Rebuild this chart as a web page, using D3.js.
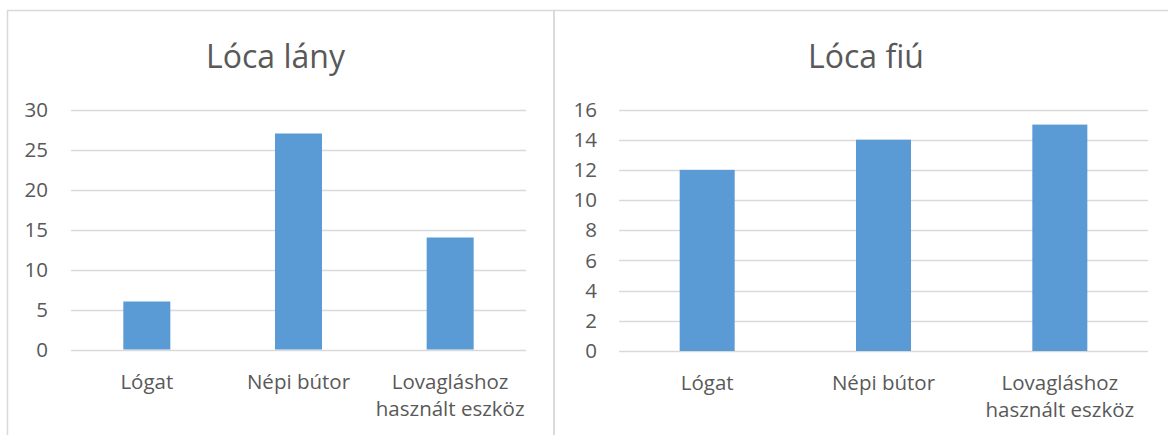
<!DOCTYPE html>
<html><head><meta charset="utf-8">
<script src="https://cdn.jsdelivr.net/npm/d3@7"></script>
<style>body{margin:0;background:#fff}svg{display:block}text{font-family:"Open Sans","Noto Sans",sans-serif;fill:#595959}</style>
</head><body>
<svg id="c" width="1168" height="435"></svg>
<script>
const categories = ["Lógat", "Népi bútor", "Lovagláshoz használt eszköz"];
const lanyValues = [6, 27, 14];
const fiuValues = [12, 14, 15];
const lanyTicks = [0, 5, 10, 15, 20, 25, 30];
const fiuTicks = [0, 2, 4, 6, 8, 10, 12, 14, 16];
const titles = ["Lóca lány", "Lóca fiú"];

const svg = d3.select("#c");
// panel borders
svg.append("rect").attr("x", 7.5).attr("y", 10.5).attr("width", 546.5).attr("height", 440)
  .attr("fill", "none").attr("stroke", "#d9d9d9").attr("stroke-width", 1.5);
svg.append("rect").attr("x", 554).attr("y", 10.5).attr("width", 640).attr("height", 440)
  .attr("fill", "none").attr("stroke", "#d9d9d9").attr("stroke-width", 1.5);

function panel(cfg) {
  const g = svg.append("g");
  const x = d3.scaleBand().domain(categories).range([cfg.x0, cfg.x1]).paddingInner(0).paddingOuter(0);
  const y = d3.scaleLinear().domain([0, d3.max(cfg.ticks)]).range([cfg.yb, cfg.yt]);
  // gridlines
  g.selectAll("line.grid").data(cfg.ticks).join("line")
    .attr("x1", cfg.x0).attr("x2", cfg.x1)
    .attr("y1", d => Math.round(y(d)) + 0.5).attr("y2", d => Math.round(y(d)) + 0.5)
    .attr("stroke", "#d9d9d9").attr("stroke-width", 1.3);
  // y labels
  const ya = d3.axisLeft(y).tickValues(cfg.ticks).tickSize(0).tickPadding(0);
  const yg = g.append("g").attr("transform", `translate(${cfg.labelX},0)`).call(ya);
  yg.select(".domain").remove();
  yg.attr("font-family", null);
  yg.selectAll("text").attr("fill", "#595959").style("font-size", "20.5px");
  // bars
  const bw = x.bandwidth() * cfg.barRatio;
  g.selectAll("rect.bar").data(cfg.values).join("rect")
    .attr("x", (d, i) => x(categories[i]) + (x.bandwidth() - bw) / 2)
    .attr("width", bw)
    .attr("y", d => y(d)).attr("height", d => y(0) - y(d))
    .attr("fill", "#5b9bd5");
  // x labels
  categories.forEach(c => {
    const lines = c === "Lovagláshoz használt eszköz" ? ["Lovagláshoz", "használt eszköz"] : [c];
    const t = g.append("text").attr("text-anchor", "middle").style("font-size", "20.5px");
    lines.forEach((l, i) => t.append("tspan").attr("x", x(c) + x.bandwidth() / 2)
      .attr("y", cfg.yb + 39 + i * 27).text(l));
  });
  // title
  g.append("text").attr("x", cfg.titleX).attr("y", 68).attr("text-anchor", "middle")
    .style("font-size", "32px").text(cfg.title);
}

panel({x0: 71, x1: 526, yb: 349.5, yt: 109.5, ticks: lanyTicks, values: lanyValues, labelX: 48, barRatio: 0.31, title: titles[0], titleX: 275.5});
panel({x0: 619, x1: 1148, yb: 351, yt: 109.5, ticks: fiuTicks, values: fiuValues, labelX: 597, barRatio: 0.312, title: titles[1], titleX: 866});
</script>
</body></html>
